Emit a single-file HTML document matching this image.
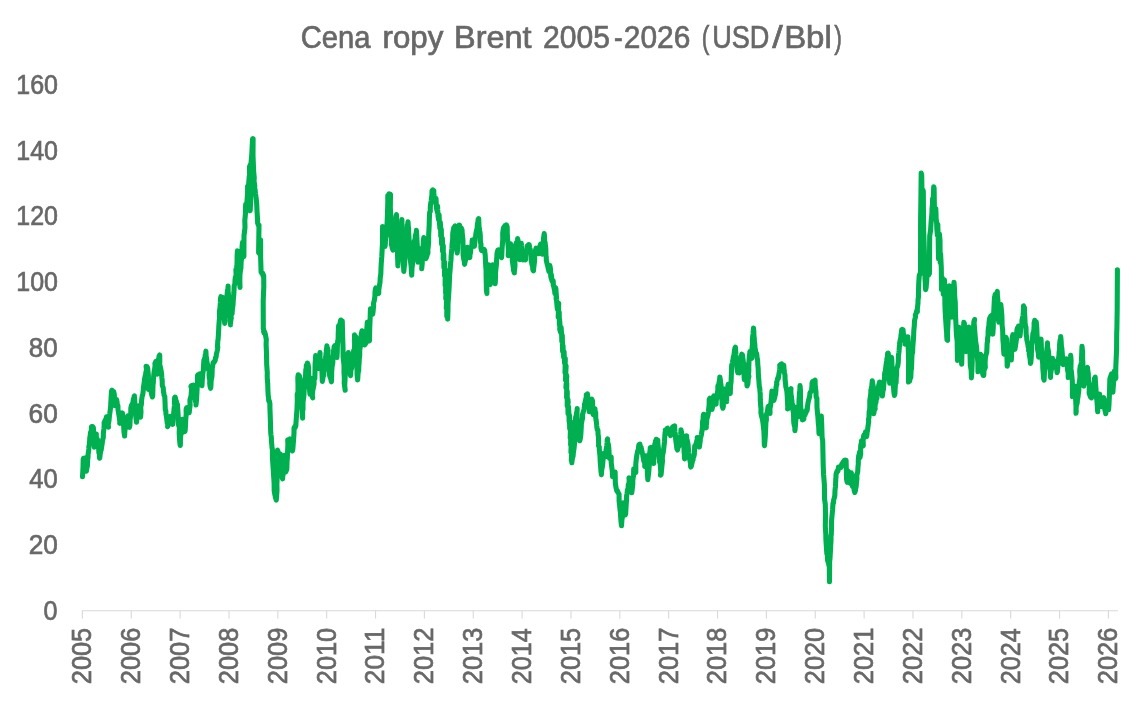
<!DOCTYPE html>
<html lang="pl"><head><meta charset="utf-8"><title>Cena ropy Brent 2005-2026 (USD/Bbl)</title>
<style>html,body{margin:0;padding:0;background:#fff;}body{width:1145px;height:702px;overflow:hidden;}svg{display:block;will-change:transform;}text{font-family:'Liberation Sans', 'DejaVu Sans', sans-serif;fill:#686868;stroke:#686868;stroke-width:0.7;}</style>
</head><body>
<svg width="1145" height="702" viewBox="0 0 1145 702">
<rect x="0" y="0" width="1145" height="702" fill="#ffffff"/>
<text y="47.6" font-size="31.2" xml:space="preserve">
<tspan x="300.67" textLength="69.78" lengthAdjust="spacingAndGlyphs">Cena</tspan> 
<tspan x="382.57" textLength="60.84" lengthAdjust="spacingAndGlyphs">ropy</tspan> 
<tspan x="454.09" textLength="77.5" lengthAdjust="spacingAndGlyphs">Brent</tspan> 
<tspan x="543.04" textLength="66.98" lengthAdjust="spacingAndGlyphs">2005</tspan>
<tspan x="614.09" textLength="8.73" lengthAdjust="spacingAndGlyphs">-</tspan>
<tspan x="623.85" textLength="66.41" lengthAdjust="spacingAndGlyphs">2026</tspan> 
<tspan x="701.82" textLength="7.66" lengthAdjust="spacingAndGlyphs">(</tspan>
<tspan x="712.16" textLength="57.19" lengthAdjust="spacingAndGlyphs">USD</tspan>
<tspan x="772.35" textLength="10.5" lengthAdjust="spacingAndGlyphs">/</tspan>
<tspan x="784.15" textLength="47.61" lengthAdjust="spacingAndGlyphs">Bbl</tspan>
<tspan x="834.22" textLength="7.66" lengthAdjust="spacingAndGlyphs">)</tspan>
</text>
<text x="43.47" y="619.75" font-size="28" textLength="13.96" lengthAdjust="spacingAndGlyphs">0</text>
<text x="28.63" y="554" font-size="28" textLength="29.14" lengthAdjust="spacingAndGlyphs">20</text>
<text x="29.36" y="488.25" font-size="28" textLength="28.38" lengthAdjust="spacingAndGlyphs">40</text>
<text x="28.62" y="422.5" font-size="28" textLength="29.15" lengthAdjust="spacingAndGlyphs">60</text>
<text x="28.82" y="356.75" font-size="28" textLength="28.95" lengthAdjust="spacingAndGlyphs">80</text>
<text x="16.25" y="291" font-size="28" textLength="41.68" lengthAdjust="spacingAndGlyphs">100</text>
<text x="16.25" y="225.25" font-size="28" textLength="41.68" lengthAdjust="spacingAndGlyphs">120</text>
<text x="16.25" y="159.5" font-size="28" textLength="41.68" lengthAdjust="spacingAndGlyphs">140</text>
<text x="16.25" y="93.75" font-size="28" textLength="41.68" lengthAdjust="spacingAndGlyphs">160</text>
<g stroke="#d9d9d9" stroke-width="1.1" fill="none">
<path d="M81.9 610.7H1118"/>
<path d="M82.4 610.7V618.6M131.26 610.7V618.6M180.11 610.7V618.6M228.97 610.7V618.6M277.83 610.7V618.6M326.69 610.7V618.6M375.54 610.7V618.6M424.4 610.7V618.6M473.26 610.7V618.6M522.11 610.7V618.6M570.97 610.7V618.6M619.83 610.7V618.6M668.68 610.7V618.6M717.54 610.7V618.6M766.4 610.7V618.6M815.25 610.7V618.6M864.11 610.7V618.6M912.97 610.7V618.6M961.83 610.7V618.6M1010.68 610.7V618.6M1059.54 610.7V618.6M1108.4 610.7V618.6"/>
</g>
<text transform="translate(91.3 683.3) rotate(-90)" x="-0.93" y="0" font-size="28" textLength="56.44" lengthAdjust="spacingAndGlyphs">2005</text>
<text transform="translate(140.16 683.3) rotate(-90)" x="-0.93" y="0" font-size="28" textLength="56.49" lengthAdjust="spacingAndGlyphs">2006</text>
<text transform="translate(189.01 683.3) rotate(-90)" x="-0.93" y="0" font-size="28" textLength="56.66" lengthAdjust="spacingAndGlyphs">2007</text>
<text transform="translate(237.87 683.3) rotate(-90)" x="-0.93" y="0" font-size="28" textLength="56.48" lengthAdjust="spacingAndGlyphs">2008</text>
<text transform="translate(286.73 683.3) rotate(-90)" x="-0.93" y="0" font-size="28" textLength="56.58" lengthAdjust="spacingAndGlyphs">2009</text>
<text transform="translate(335.58 683.3) rotate(-90)" x="-0.92" y="0" font-size="28" textLength="56.36" lengthAdjust="spacingAndGlyphs">2010</text>
<text transform="translate(384.44 683.3) rotate(-90)" x="-0.93" y="0" font-size="28" textLength="56.62" lengthAdjust="spacingAndGlyphs">2011</text>
<text transform="translate(433.3 683.3) rotate(-90)" x="-0.93" y="0" font-size="28" textLength="56.66" lengthAdjust="spacingAndGlyphs">2012</text>
<text transform="translate(482.16 683.3) rotate(-90)" x="-0.93" y="0" font-size="28" textLength="56.49" lengthAdjust="spacingAndGlyphs">2013</text>
<text transform="translate(531.01 683.3) rotate(-90)" x="-0.92" y="0" font-size="28" textLength="56.11" lengthAdjust="spacingAndGlyphs">2014</text>
<text transform="translate(579.87 683.3) rotate(-90)" x="-0.93" y="0" font-size="28" textLength="56.44" lengthAdjust="spacingAndGlyphs">2015</text>
<text transform="translate(628.73 683.3) rotate(-90)" x="-0.93" y="0" font-size="28" textLength="56.49" lengthAdjust="spacingAndGlyphs">2016</text>
<text transform="translate(677.58 683.3) rotate(-90)" x="-0.93" y="0" font-size="28" textLength="56.66" lengthAdjust="spacingAndGlyphs">2017</text>
<text transform="translate(726.44 683.3) rotate(-90)" x="-0.93" y="0" font-size="28" textLength="56.48" lengthAdjust="spacingAndGlyphs">2018</text>
<text transform="translate(775.3 683.3) rotate(-90)" x="-0.93" y="0" font-size="28" textLength="56.58" lengthAdjust="spacingAndGlyphs">2019</text>
<text transform="translate(824.15 683.3) rotate(-90)" x="-0.92" y="0" font-size="28" textLength="56.36" lengthAdjust="spacingAndGlyphs">2020</text>
<text transform="translate(873.01 683.3) rotate(-90)" x="-0.93" y="0" font-size="28" textLength="56.62" lengthAdjust="spacingAndGlyphs">2021</text>
<text transform="translate(921.87 683.3) rotate(-90)" x="-0.93" y="0" font-size="28" textLength="56.66" lengthAdjust="spacingAndGlyphs">2022</text>
<text transform="translate(970.73 683.3) rotate(-90)" x="-0.93" y="0" font-size="28" textLength="56.49" lengthAdjust="spacingAndGlyphs">2023</text>
<text transform="translate(1019.58 683.3) rotate(-90)" x="-0.92" y="0" font-size="28" textLength="56.11" lengthAdjust="spacingAndGlyphs">2024</text>
<text transform="translate(1068.44 683.3) rotate(-90)" x="-0.93" y="0" font-size="28" textLength="56.44" lengthAdjust="spacingAndGlyphs">2025</text>
<text transform="translate(1117.3 683.3) rotate(-90)" x="-0.93" y="0" font-size="28" textLength="56.49" lengthAdjust="spacingAndGlyphs">2026</text>
<path d="M82.5 476.8 83 467.7 83.2 459.4 83.5 458.3 83.9 459.5 84.2 460 84.5 459.8 85 458.1 85.3 458.6 85.3 458 85.4 459.6 85.7 464 85.9 468.1 86.4 471.2 86.9 467.8 87.4 466 87.5 462.4 87.7 459.4 88 457.8 88.1 454.4 88.6 451.2 88.8 448.9 88.9 446.4 89.5 444.1 89.7 439.2 89.8 437.6 90.1 436.3 90.6 432.2 91.1 431.3 91.4 430.7 91.4 427 91.5 427.8 91.6 427.2 91.8 426.5 91.8 427.8 92.3 426.6 92.8 428.2 92.6 426.6 93.4 427.7 93.6 434.7 94.3 447.3 94.5 445.7 95 445.1 95.4 442.8 96 438.1 96.3 437.4 96.3 434 96.3 436.7 96.8 438.7 97.5 439.5 97.7 442.9 98.1 445.6 98.6 447.9 98.7 449.2 98.9 452.8 99.4 453.6 99.5 457.7 99.7 458.2 100 455.9 100.1 455.6 100.1 454.5 100.7 450.8 101.2 449.9 101.5 447.6 101.9 445.3 102.3 442.7 102.5 440.6 102.9 438.8 103.3 437.8 103.4 432.7 103.9 429 104.2 425.2 104.1 422.9 104.3 422 104.7 421.5 105.1 420.4 105.3 420 105.7 421.4 105.9 419.5 106.2 418.4 106.5 416.8 106.5 418.5 107.1 419.9 107.7 422.1 107.9 421.5 108.3 422.9 108 425.7 108.5 427.1 108.2 424.7 109 420.6 109.4 416.2 109.8 413.5 110.4 408.7 110.7 406 110.7 405 111 399.6 111.5 391.1 111.9 392.3 111.9 390.4 112 391 112 390.2 112.6 391.5 112.8 392.5 112.9 392 113.7 391.7 114.3 394.3 114.5 399.7 115 400 115 405.5 115.5 404.1 115.5 404.4 116.2 403.8 116.4 403.1 116.6 399.6 117.1 402.3 117.3 406.2 117.5 404.9 117.9 405.7 118 409.7 118.5 412.7 119 415.6 119.4 418.1 119.9 422.4 119.7 423.3 120.1 420.4 120.6 418.1 120.8 416.9 121 416.8 121.3 415.8 121.5 417.1 122 416.2 122 414.5 122.3 412.9 122.6 413.7 123.1 418.9 123.5 421.9 123.5 425.1 123.7 426 123.9 431 124.1 432.8 124.6 436 124.8 432 125.2 428.5 125.1 427.6 125.4 427.8 125.6 423.8 125.9 423.4 126.5 423 126.9 421.8 127.4 421.1 127.2 418.8 127.9 415.9 128 418.3 128 422.6 128.9 424.3 129.3 424.6 129.4 427.4 129.9 425.2 130.1 419.4 130.6 416.1 130.8 412.3 130.8 407.9 131.2 407.4 131.3 405.5 131.9 407.3 131.6 406 132 404.8 132.5 404.7 132.9 402.5 133.4 399.1 133.5 398.7 134.1 399 134.2 396.2 134.4 395.8 134.6 399.1 135.1 406.3 135.1 407.4 135.7 413.9 136.1 419.5 136.4 420.5 136.5 422.3 136.9 419.5 137.2 417.1 137.5 416.2 137.8 415 138.2 412.3 138.3 410.3 138.6 407.4 138.8 405.8 139.2 407.6 139.2 409.5 139.8 412 140 414.3 140.1 416.5 140.6 417 141 411.7 140.7 407.5 141.5 403.7 141.5 400.9 142 397.2 142.4 395.4 142.8 394.3 143.3 390.1 143.5 386.6 143.7 386.2 144.2 382.4 144.6 378.9 145 377 145.8 373.9 145.8 372.8 146.5 369.8 146.1 366.3 146.9 367.5 147 366.6 147.4 367.4 147.6 368.4 147.8 369.2 147.7 368.8 148.4 375.6 148.4 380.5 148.4 389.5 148.2 387.7 148.7 386.4 149.1 386.4 149.1 385.1 149.6 385.9 150.1 384 149.8 386 150.4 388.1 150.8 387.2 150.7 390.1 150.9 389.9 151.1 391.7 151.6 394.2 152.4 397 152.7 395.7 152.9 389.6 153 384.9 153.4 382.1 153.4 379.8 153.8 374.7 154.1 371.7 154.6 369.3 154.8 367.8 155.1 365.7 154.9 363.5 155.9 361.3 155.9 361.6 156 365.3 156.3 368.1 156.8 371.6 157.3 374.2 157.4 371.4 157.8 369.9 157.9 366.2 158.1 363.4 158.5 359.8 158.9 357.4 159.1 356.2 159.7 355 159.8 361.1 159.7 365.1 160.2 366.3 161.1 370.5 161.6 374.1 161.8 377.2 162.2 380.6 162.2 382.7 162.3 385.7 163.1 387.3 163.3 388.7 163.5 392 163.8 392.6 164 395 164.8 396.8 165 401.6 165.1 403.8 165.2 407.6 165.3 409.9 165.8 410.7 166 414.7 166.3 415.3 166.7 418.2 167.2 423 167.9 424.3 167.6 426.7 168.3 425.2 168.8 422.7 168.7 423.7 168.5 421.2 168.7 421.8 169 420.6 169.1 419.4 169.1 418.4 169.6 417.4 170.2 416.5 170.3 416.8 171 417.6 171.2 419.6 171.4 420 171.6 420.3 172 422 172.7 423.6 172.7 424.1 172.8 424.3 173.2 418.3 173.6 414.2 174 409.7 174.4 405.9 174.5 399.3 174.7 397.6 175.1 397.1 175.5 398.2 175.9 400.4 176.1 401.9 176.4 401.4 176.6 403.2 177.1 404.1 177.5 404.3 177.6 406.5 177.9 411.4 178.3 418 178.4 422.6 178.7 425.8 179.4 426.6 179.2 433.1 179.5 438.6 179.9 443.2 180.3 445.5 180.4 443.9 180.4 438.7 180.9 434 181.3 434 182.1 430.6 182.2 426.2 182.5 423.7 182.6 419.4 182.9 420.9 183.1 421.1 183.5 422.6 183.8 424.5 184.3 426 184.4 429.2 184.6 431.1 184.9 431.5 185.2 430.2 185.5 425.2 185.8 418.5 186.2 414.2 186.1 409.5 186.6 407.8 187 407.6 187.2 408.5 187.1 409.8 187.5 409.9 187.8 411.5 188 412.2 188.8 412.8 189.2 412.8 189.7 408.2 190.1 405.4 189.9 400.2 190.3 398.3 191.1 395.8 191.3 392.2 191.6 389.8 191.4 385.6 191 386.4 191.4 386.4 192.3 386.6 192.5 386.1 192.7 385.5 193.2 385.1 193.5 385.5 194 387.7 194.2 390.9 194.4 393.9 195 394.5 195 397.8 195.4 401.5 196 401.5 196 404.9 196.5 400.2 196.9 392.6 197.1 388.7 197.3 384.9 197.5 381.2 197.5 375.5 197.8 375 198.1 375.8 198.7 375.1 199.2 374.3 199.4 375.4 199.5 375.5 199.8 374.7 200.4 374.1 200.4 373.8 200.9 375.8 201.2 376.4 201.4 379.5 201.4 382.1 201.4 384.8 202 385.6 202.3 379.7 202.6 374.8 203.3 370.6 203.6 365.1 203.9 360.2 204.8 358.6 204.5 359.6 204.8 357.7 205.2 357.1 205.2 355.1 205.8 353.9 205.8 351.7 205.9 351.2 206 353.4 206.2 356.8 206.6 358.2 206.8 361.2 207.4 364 208.1 368.2 208.3 369.5 209 368.8 209.2 371.4 209.1 375.4 209.4 378.7 209.8 378.8 209.7 383.4 210.1 386.6 210.6 388.3 210.8 387.3 211 384.3 211.1 381.1 211.9 376.8 212.1 373.7 212.2 368.4 212.7 365.8 213 363 213.6 362.8 213.7 362.1 214 362.5 214.1 361.8 214.5 361.2 214.5 361.3 214.9 361.2 215.2 360.3 215.5 357.9 216.1 357.1 216.4 354.1 217.1 351.3 217.5 349.2 217.8 347 217.4 348.2 217.6 344.8 217.8 340.5 218.1 339.6 218.6 331.3 218.8 326.5 219.3 319.9 219.6 318.4 219.4 310.9 219.9 309 220.4 302.4 220.5 298.6 220.9 296.7 221.3 297.8 221.1 298.4 221.5 298.1 221.7 299.6 222.1 298.3 222.3 298.3 222.8 297.4 222.8 302.8 223 307 223.6 308.5 223.9 314.3 224.4 319.4 224.7 323.4 225.1 320.9 224.9 317.7 225.3 316.8 225.6 313.5 225.8 310.7 226.3 306.7 226.3 302.2 226.8 297.7 227.2 293.4 227.6 289.8 227.9 289.8 228.1 286.1 228.1 290.9 228.5 294.9 228.9 299.4 229.4 306 229.8 312.2 230.1 315.9 230.3 320.1 230.5 324.9 230.6 322.2 231 319.1 231.3 318.1 231 318.5 231.1 315.2 232.1 313.7 232.5 307.8 232.7 307 233 305.4 233.1 303.3 233.3 299.4 233.6 296.5 233.9 292.8 234.2 285.7 234.8 284.4 235.1 279.1 235.4 277.1 236.1 275.4 235.9 269.6 236.6 267.4 237 264.6 237.1 259.2 237.1 256.7 237.4 250.9 238 258.8 238.1 261.1 238.3 265.7 238.6 272 239.2 273.7 239.5 277.4 239.8 282.3 240 287.4 239.8 279.7 240 274.1 240.4 270.9 240.9 268.1 241.1 262.3 241.7 257.6 241.9 251.7 242.1 246.5 242.5 242.4 242.9 247.5 243.5 250.8 243.7 253.2 243.9 256.6 244 235.7 244.6 231.2 245 227.3 244.8 220.4 245.3 215.6 245.5 213 245.6 205.2 245.7 204.4 245.9 205.3 246.7 204.5 246.8 204 247.3 196.7 247.6 194.1 247.6 186.2 248 187.4 248.5 186 248.7 183.6 248.7 183.1 249.2 176.9 249.6 175 249.5 166.7 249.8 168.6 249.8 166.8 250.2 164.9 250.2 190.3 250.2 210.7 250.7 199.3 250.5 188.9 250.7 179.8 251.2 170.8 251.1 162.3 251.8 154.1 252.1 147.7 252.6 138.8 253 138.9 253.1 138.6 253 155.3 253.7 172.5 254.2 177.1 254.2 178.9 254 181 254.8 186.1 254.5 187.2 255.1 189.9 255.5 193.6 256.2 198.6 256.7 203.9 257 210.9 257.6 220.5 257.6 222.9 258.1 224.3 258 223.9 258 223.9 258.5 225.6 259 225.1 258.6 252.6 259 253.3 259 252.6 259.5 249.8 259.8 247.1 259.8 245.7 259.9 241.8 260.6 239.8 260.6 256.5 261.1 272.1 261.4 272.3 261.8 273.4 262.4 273.4 262.8 273.3 263 274.9 263 275.7 263.4 276.5 263.7 275.4 263.8 286.5 263.2 301 263.3 328.6 263.6 329.2 263.9 330.7 263.6 331.4 264 332.9 264.4 331.5 265 333 265.5 335.1 266.3 339.5 266.1 344.3 266.5 352.9 266.7 364.6 267.3 373 267.2 375.7 267.3 379.3 267.7 383.3 267.9 389.9 268.2 395.6 268.6 397.9 268.7 400.9 269.3 400.7 269.8 403.2 269.9 403.5 269.9 407.3 270.3 417.9 270.7 432.3 270.9 434.3 271.4 438 271.4 440.9 271.8 444.6 272 447.6 272.4 449.4 272.4 456.9 273 466 273.4 472.2 273.7 476.9 274.1 482.8 274.2 490.8 274.9 494.9 275.2 495.7 275.4 497.7 275.4 497.5 275.9 498.6 276.2 499.9 276.3 500 277 490.8 276.9 484.5 277.1 479.3 277.5 450.1 278 451.6 278.1 457.1 278.2 458.3 278.6 461.6 278.4 465.4 278.9 470.4 278.6 467.4 278.9 461.7 279.6 456.8 280.2 453.9 280.1 457.9 280.4 460.1 280.9 462.2 281.1 465.1 281.1 467.7 281.8 472.9 282 476.8 282.6 478.9 282.8 475.9 283.4 473.4 283.6 470.7 284 467.3 284.2 459.6 284.4 455.2 284.5 459.7 285.1 461 285.7 467.2 285.8 471.9 286.8 469.4 287 462.9 287.4 456.9 287.5 453.2 287.9 444.6 287.7 439.9 288.7 439.5 288.7 440.5 289.3 440.5 289.5 439.7 289.9 440.5 289.8 440.4 290.1 438.9 290.3 439.2 291.2 439.9 291 442.5 291.2 443.1 291.4 444.3 291.5 446.7 291.7 448.7 292.1 449.5 292.4 451 292.8 449.3 293.2 444.2 293.6 439.2 294 433.1 294 429 294.1 427.6 294.5 428.7 294.6 428.2 295.3 427.3 295.5 425.3 295.8 426.1 296 422.7 296.4 416.8 297 409.1 297.3 400.6 297.2 394.2 298 392.2 298 384 297.8 377.8 298.2 374.9 298.5 376.3 298.8 375.8 299.3 375.6 299.6 377 300 379 300.3 380.2 300.7 381.2 300.9 382.8 301.1 384.4 301.4 396 301.8 399 301.7 403.8 302.2 409.4 302.6 418.2 302.6 411.3 303 409.4 303 402.4 303.9 395.5 304.2 389.7 304.5 387.6 304.5 383.1 305.2 378.5 305.6 374.8 305.8 369.7 306.3 368.1 306.3 365.5 306.7 364.8 306.8 365.6 307.1 365 307.4 363.1 307.4 363.2 308.1 364.7 308.6 367.6 308.5 370.4 308.9 377.9 309 383.1 309.4 387.6 309.7 391.6 310 394.3 309.9 390.1 310.2 387.9 310.4 381.9 311 378.3 310.8 380.9 311.1 383.8 311.4 387.6 311.9 391.3 311.8 395.1 312.7 397.8 312.3 395.5 312.7 391 313.4 387.5 314.1 384 314 379.2 314.8 378.6 315 371.6 315.1 364.2 315.7 355.5 315.8 358.4 316 356.6 316.4 359 316.8 359.4 317.1 360.2 317.5 361.6 317.9 364.3 318.6 366.7 319.1 368.5 319.1 367.2 319.5 362.5 319.6 357 320 352.5 320 356.8 320.3 360.5 320.4 362.9 321 364.2 321.9 370 322.1 375.2 322.3 381.5 322.6 379.7 323.2 376.3 323.8 375.3 323.9 372.1 324.3 368.6 324.6 365 325.1 364.9 324.9 362.2 325.4 358.9 325.8 355.7 325.9 356.5 326 353.2 326.5 354.2 326.3 350.3 326.8 347 326.9 345.7 327.2 348.1 327.6 348.3 328.1 350.5 328 352.2 328.3 358.2 328.5 360.7 328.9 361.6 328.8 365.3 329.3 369.4 329.2 371.6 329.5 372 329.6 375.1 329.6 375.6 330.2 377.5 330.5 377.8 331.4 381.8 331.6 378.2 331.7 371.6 332.1 366.6 332.8 362.9 332.9 359.4 333.3 356 333.5 354.8 333.6 350.3 333.8 349.9 334.2 346.5 334.8 345.7 335.3 348.2 335.8 348.9 336.2 350 336.5 352.6 336.7 355.8 336.9 357.5 337.2 352.9 337.4 345.9 337.7 340.6 338.1 340.9 338.2 335.1 338.5 326.1 338.5 326.1 338.8 326.7 338.7 326.4 339.2 325.2 339.7 324.5 340.1 324 340.3 321.8 340.8 320 341.1 320.8 341.3 320.3 342.1 321.9 342.3 321 342.4 326.5 342.6 335.8 343 346.7 343.1 356.8 343.5 360.8 344 365.1 344 373.1 344.3 377.1 344.3 382 344.2 383.2 345.2 390.3 344.7 385.6 345 380.2 345.3 373.2 345.9 370.6 346.8 366.2 346.9 362.3 347.3 359.8 347.6 357 347.8 354 348.3 352.5 349 356.7 348.9 360.8 349.3 363.4 349.9 367.8 349.8 370.2 350.1 370.6 350.2 373.9 350.5 375.7 350.8 373 350.9 369.8 351.6 368.7 352.1 365.2 352.5 362.7 352.4 359.3 353 356.5 353.7 350.5 354.3 349.7 354.6 347.5 354.6 341.1 354.5 334.9 355.1 337 355.8 336.8 355.9 342.6 356.2 345 356.3 346.9 356.2 348 356.6 354.8 356.7 361.5 357 367.4 357.1 374.6 357.6 379.9 357.8 377.8 358.1 373 358.7 370.4 358.8 366.3 359.1 363.2 359.3 358.6 359.7 355.4 359.7 351.2 359.8 349.8 360.2 347.3 360.4 344.3 360.7 341.5 360.8 339.1 360.9 337.6 361.3 333.8 362 330.8 361.9 335.4 362.7 339.2 363.2 341.2 363.6 343.7 364 344.4 364.4 343.4 364.9 344.5 364.7 344.9 365.3 344 365.6 343.7 366.2 342.5 366.3 339.6 366.5 332.9 366.8 329 367 326.4 367.3 322.2 368 324.7 368.2 327.3 368.3 329.1 368.6 332.9 368.8 333.2 368.9 335.5 369 339.2 369.5 340.8 369.7 328.6 370.1 319.3 370.4 310.1 370.5 308.7 371.1 310.8 371.2 311.6 371.1 313.1 371.6 312.7 371.8 313.8 372.5 312.6 372.7 314.2 373.1 311.2 373.7 305.1 373.5 304.6 373.5 303.2 374 301.6 374.2 301 374.9 296.6 375 292 375.5 288.5 375.8 288 376.2 289.4 376.4 291.3 376.6 292.4 376.5 292.7 376.9 292.7 377.2 292.3 377.4 292.4 377.7 291.1 378 291.9 378.7 293.4 378.8 289.9 379.5 285 380 282.6 380.2 278.2 380.8 274.1 381 268.2 381.2 264.1 381.8 256.2 382.2 248.5 382.5 243.7 382.5 237.1 382.6 226.5 383.2 229.5 383.5 230.8 383.6 233.2 384.1 236.4 384.6 240.1 385 241.9 385 246.4 385.3 243.9 385.5 239 386.4 235.4 386.9 232.2 386.6 230.4 387.1 223.1 387.4 215.8 387.8 202.5 387.8 195.5 388.2 196.6 388.6 196.4 389.1 195.1 389 193.9 389.1 194.7 389 194.6 389.2 194.6 389.3 194.8 389.7 195 390.5 194.5 390.3 207.6 390.7 214.5 391 227.3 391.6 244.6 391.4 244.7 391.9 245.8 392.2 248 393 250.2 393.3 243.6 393.2 240.2 393.7 233.5 394.3 230.3 394.8 228.8 395 226 395.2 224.7 395.2 223.3 395.6 221.1 396.1 215.8 396.5 214.7 396.7 222.7 396.9 237.7 397.1 239.8 397.4 250.4 397.9 265.9 398.2 258.9 399 253.8 399 250.5 399.4 248.8 399.7 244.6 399.9 238.2 400.1 238.1 400.5 233.4 400.8 232.3 401 226.6 401.5 224.9 401.7 224.7 401.9 219.6 402 229.9 401.8 239.2 402 246.6 402.6 253.3 403 256.8 403.5 265 403.8 271.5 404.5 264.5 404.7 261.9 405.2 257 405.7 253.9 405.9 252.5 405.9 249.9 406.1 245.4 406.4 239.7 407 236.3 407.1 228.1 407.3 225.2 407.8 223.8 408 221.7 408.3 226.7 408.6 228.2 408.6 231.6 409 238 409.2 243.5 409.6 248.8 409.9 253.6 410.5 260.8 410.7 262.9 411.1 265.7 411.6 273.8 411.7 275.2 412 268.1 412.4 265 412.5 264.2 413.2 257.7 413.3 253.9 413.4 248 413.6 242.5 414.2 242.3 414.3 241.2 415.1 239 415.4 235.7 415.7 234.9 416.1 233.2 416.3 232.6 416.4 230.4 416.7 234.7 417 241.2 417.6 250.9 417.9 255.7 418 262.2 418.6 260.2 418.6 257.4 419.1 256.4 419.4 254.7 419.6 252.3 419.7 248.6 420.1 251.9 420.6 254.2 421.2 255.8 421.9 261.4 422 264.3 421.7 268.8 422.2 263.6 422.3 261.3 422.7 255.7 422.9 250.4 423.1 246.9 423.4 240.5 423.8 237.5 424.5 239 424.6 242.2 425 246.2 425.6 251.5 426.1 254.1 425.9 258.6 426.7 256.7 427 255.4 427.3 253.9 427.7 253.9 428 252 428 252 427.8 249.9 428.3 246 428.6 242.1 428.7 234 429.2 225.5 429.3 220 429.5 215.8 429.7 212.1 430.3 211.4 430.3 207.3 430.6 204.1 431.1 201.1 431.6 197.1 431.9 195.1 432 190.8 432.1 191.3 432.3 191 432.8 189.9 433.2 190.2 433.2 191 433.8 190.7 433.8 193.7 434.2 196 434.8 198.9 435.6 200.5 435.7 201.7 435.8 202.8 436 204.5 436 198.5 436.2 202.4 436.4 206.4 436.4 208 436.7 209.3 437.5 212.8 437.6 206 437.7 209.9 438 213.4 438 216 438.7 220 439.1 214.9 439.3 220.9 439.9 228.6 440.3 222.2 440.7 228.7 440.7 235.7 441 232.5 441.3 229.4 441.6 244.3 442.2 240.6 442.4 238.3 442.6 251.5 443.2 246.1 443.3 245.7 443.2 259 443.4 255.7 443.8 254 443.9 267.6 444.3 265.2 444.7 262.2 444.5 275.7 445.2 273 445.5 270.9 445.3 269.7 445.1 285.1 445.8 284.6 445.8 279.2 445.6 293.3 446.1 291.7 446.3 288.9 446.3 286.6 445.8 299 445.8 295.9 446.3 294.7 446.8 294.2 446.3 308.4 446.8 307.5 446.7 306.2 447.3 302.7 446.8 312 446.8 316.2 446.9 315 447.4 311.6 447.8 309.2 447.7 319.1 448 309.6 448 305.5 448.1 302.9 448.8 292.5 449.1 287.8 449.4 281.3 449.6 275.4 450.2 268.8 450.5 264.3 450.9 260.7 451.1 257.9 451.1 256.3 451.5 252.2 451.9 248.2 452.2 243 452.7 239 452.7 234.6 452.9 232.6 453.5 229.3 453.8 227.6 454.2 227.4 454.7 226.5 454.9 227.9 454.7 228.1 455.3 225.9 455.4 231.6 455.5 234.6 456.1 238.7 456.4 245.6 456.6 248.9 457.2 253 457.6 248.9 457.7 243.6 458.2 241.3 458.7 234.6 459.1 228.5 459.2 225 459.6 225.2 459.7 227 460.3 228.7 460.7 228.7 460.9 228.4 461.2 227.9 461.7 229 462.1 230.5 462 230.6 462.5 236.2 462.9 239.1 463 244 463.1 254.5 463.4 257 464 260.4 464.3 260.9 464.5 263.8 464.6 264.3 464.9 262.6 465.4 260.5 465.7 259.8 466.1 257.3 466.2 254.6 466.3 253.6 466.4 252.1 466.6 251.3 467.4 247.3 467.9 248.4 467.8 248.7 468.3 250.9 468.1 251.9 468.4 253.2 468.8 254.3 469 254.1 469.8 257.6 469.9 254.8 470.5 252.8 470.6 250.9 470.9 248.2 471.5 247 472 244.2 472.2 240 472.8 240.7 472.8 242.2 472.7 242.1 473 243.1 473.4 243.6 473.7 242.7 474 244.4 474.4 246.3 474.7 243.3 475 240.4 475.1 239 475.2 237.6 475.6 235.7 476.2 232 476.6 230.1 477.1 228.4 477.4 224.6 477.8 222.1 478 222.1 478.1 219.5 478.7 218.6 478.9 223.5 479 226.4 479.5 229.5 479.6 233 480 232.1 480.3 235.8 480.3 236.7 480.4 241.3 480.5 242.4 481 244.4 480.9 247.7 481.5 250.5 481.9 250.6 481.9 250.4 482.2 250 482.5 249.5 482.9 250.5 483.8 249.6 484 249.4 484.4 250 484.7 250.1 484.7 251.3 485.2 254.9 485.4 259.2 485.7 265.6 486.1 270.7 486.1 276 486.3 283.1 486.4 290.1 486.9 293.5 486.8 285.3 487.5 279.9 488 273.7 488.3 272.8 488.5 269.7 488.7 264.9 489.3 268.8 489.4 271.7 489.8 274.3 489.8 275.8 490 279.7 490.3 284.6 490.3 280.9 490.3 279.5 490.9 276.2 491.6 274 491.8 272.2 492.1 269.4 492.8 264.8 492.9 266.4 493.1 268.5 493.5 272.4 493.9 276 494.5 276.8 494.6 278.2 494.9 280.5 495.2 283.7 495.4 279.9 495.5 272.8 496 268.3 496.4 264.7 496.6 260.2 496.9 255.8 497 253.9 497.3 252 497.6 251.1 497.8 250.8 497.9 249.9 498.6 249.8 498 250.9 498.6 251 499 250 499.5 251.9 500 252 500.2 253.8 500.6 255.7 500.9 256.6 501.6 257.6 501.8 254.6 502.1 247.8 502.4 244.3 502.8 239.3 502.7 233.4 503.4 228 503.4 228 503.7 228.4 504 227.1 504.2 227 505 225.7 505.5 226.6 505.9 227.1 506.4 224.9 506.5 225.2 507.2 227.2 507.3 235.8 507.7 240.9 508.1 245.6 508.4 250.8 508.2 255.7 509.2 253.4 509.6 252.6 510.1 252.4 510.1 251.1 509.9 249.3 510.3 247.4 510.6 243.9 510.8 244.3 511.2 245.6 511.2 246.4 511.9 250.7 512.4 252.3 512.5 256.1 512.3 260.1 512.6 262.7 513.2 266.8 513.5 270.2 514 271.7 514.3 272.9 514.2 272.7 515 265.8 514.8 260.4 515.1 256.2 515.7 251.5 515.7 246.2 516.1 244.1 516.4 242.6 516.8 244.6 517.4 241.4 517.7 240.6 517.6 238.5 518.6 243.3 519 247.5 519.1 249.4 519.5 251.7 519.5 256.6 519.6 259.7 520.1 258.9 520.5 255.3 520.7 252.1 521 250.6 521.3 245.9 521.3 243.4 521.5 245.6 521.7 247.3 521.5 249.7 521.7 255.1 522.2 257.2 523 259.8 523.4 258.2 523.7 258.7 524 259.4 524 258.3 524.6 258.9 525 258.8 525.4 259.1 525.3 259.9 525.7 259.5 525.8 256.4 525.9 252.7 526.8 249 527 248.4 527.2 248.9 527.2 246 527.8 246.3 527.9 246.3 528.1 245.9 528.4 244.7 528.6 244.6 529.2 244.9 529.6 247.5 530.4 250.1 530.7 251 530.9 253.1 531.3 257 531.3 261.3 531.7 261.6 531.8 263.7 532.5 266.2 532.8 266 532.7 268.8 533 270.3 533.5 270.9 533.8 267.1 534.2 264 534.6 261 534.6 257.2 535 252 535.7 249.4 535.8 249.4 536.1 248.2 536.3 248.7 536.4 248.4 536.8 248.7 537.2 248.5 537.5 249.7 538.1 251.2 538.4 252.6 538.5 253 538.8 253.6 539.1 252.2 539.1 249.3 539.7 248.6 539.7 247.6 540.1 245.8 540.6 244.1 540.7 245.2 541.2 245.8 541.3 248.4 541.8 249.2 542.1 251.9 542.4 254.2 542.9 249.7 543.2 246.1 543.3 243 543.6 238 543.7 237.1 544.2 233.6 544.5 236.7 544.6 241.8 545.1 242.5 545.5 246.1 545.8 248.7 546 256.3 546.2 256.3 546.3 258 546.3 260.3 546.8 262.4 547.4 265.2 547.8 266.1 547.9 266.8 548.3 269.1 548.4 269.3 548.9 271.5 549.4 270.8 549.6 270.5 549.9 265.6 550.4 268.7 550.7 276 551.1 277.5 551.3 278.9 550.9 273.5 551.2 274.5 551.6 276.7 551.6 279 551.8 280.2 552.2 281.2 552.5 281.3 552.8 281.7 553 282.9 553.4 285.7 553.2 280.9 553.4 285.1 553.6 285.7 553.9 287.4 554.6 290.2 554.9 293.6 555 288.1 555.5 287.7 555.9 288.8 556.2 293.7 556.4 296.2 556.6 299.2 556.8 301.4 556.4 300 556.2 296.3 556.1 298.5 556.6 301 556.9 304.3 557.2 307.7 557.7 309.9 557.4 308.8 558 304.8 558.7 303.4 558.2 317.2 558.6 316.6 559 316.3 559.2 312.1 559.4 325.1 559.5 319 559.8 322.3 560 325.4 559.7 329.1 560.2 331 560.9 332.9 561.1 327.2 561.7 335.9 561.8 341.5 562 338.3 562.3 335.3 562.6 351.5 563 345.3 563.3 353.1 563.7 357.6 564.1 351.7 564.2 354.7 564.6 363.5 564.7 360.1 565.3 358.5 565 373 565.4 371.2 565.4 366.8 566.1 366 565.8 372 565.5 380.2 566.3 377.6 566.8 377 566.5 375 566.6 381 565.9 387.5 566.2 383.4 566.5 384.1 566.8 383.3 566.6 397.8 567.3 394.7 567.2 391 567.2 405.8 568.2 402.3 567.9 399.3 568 413.4 568.4 411.2 568.5 406.6 569 415.2 569.1 421.6 569.4 414.8 569.7 429 570.3 427.3 570.9 425.3 570.6 422.1 570.2 438.2 570.8 435.2 570.8 431.4 571 430.6 570.6 444.9 571.2 444.2 571.4 440.7 571.4 438.9 570.9 452.3 571.1 448.3 571.3 447.1 571.8 446.4 571.3 460.7 571.5 457.5 571.6 456.4 572 454.8 571.9 462.8 571.9 461.7 572.4 458.4 573.1 456 573.3 453.2 573.7 450.6 574 448.7 574.9 440.3 575 438.7 575.3 429.8 575 425.1 575.3 419.1 575.7 417.8 575.7 416.8 576.2 415.8 576.6 412.7 576.9 412 577.2 408.5 577 413.8 577.2 418.3 577.3 421.7 577.7 422.6 577.8 427 578.2 430.7 578.6 435.1 579 438.2 579.8 440.7 580.2 439.1 580.7 435.8 581 431.8 581.3 426.6 581.3 424.3 581.9 421.1 581.8 420.3 582.3 419.6 582.5 417.7 582.5 414.5 583.2 412.2 583.2 411.9 583.6 411.2 584 409.3 584.5 406.5 584.4 404.5 585 402.8 585.6 400.3 585.8 398.9 586.2 398.7 586.3 397 586.3 394.8 586.9 394.9 587.4 393.8 587.9 397.8 588.1 401.5 588.8 404.1 588.8 404.4 589.2 406.7 589.3 411.8 589.7 411 589.9 409.3 590.2 407.3 590.9 406.6 591.2 402.6 591.7 401.4 592 401 591.8 399.1 592.6 401.2 592.6 407.8 593 413.5 593.2 414.6 593.9 412.3 593.9 411.6 594.1 410.1 594.2 411.1 595 408.7 595 409.9 595.3 411.9 595.7 412.6 595.7 417.4 596 419.8 596.4 421.9 596.7 425.4 597.1 429.1 597.4 430 597.9 430.2 598 432.2 598.1 434.8 598.5 437.1 598.6 442.2 598.6 445.9 599.3 447.1 599.3 449.9 599.8 454.3 600 456.2 600.2 461.6 600.7 467.2 601 471.5 601.4 474.7 601.6 471.1 602.2 467.1 602.3 467.3 602.8 462.9 603.1 459.2 603.4 453.6 603.9 454.7 604.3 454.2 604.5 455.3 605.1 456 605.4 454.7 605.3 454.6 605.7 455.5 605.7 456.8 605.9 451.9 606.1 449.9 606.8 445.6 607.1 442.7 607.2 440.1 607.6 438.9 607.6 442.7 608.3 444 608.8 447.9 609.1 453.2 609 456.2 609.5 458.3 610 458 609.8 456.7 609.9 456.2 610.1 456.7 610.4 458 611.2 457 611.2 462.6 612 468.8 612.3 471.3 612.5 476.6 612.7 475.8 613.1 476.3 613.5 473.8 613.5 473.2 614 472.2 614.7 472 614.6 472.2 615.1 472.1 615.2 475.3 615.3 480.5 615.3 482.5 615.4 483.5 616.1 488.2 616.7 490.4 616.8 490.8 616.9 490.1 617.5 491 617.9 491.8 617.8 491.5 618 492.7 618.4 493.2 619.1 494.1 619.1 500.9 619.6 505.3 620.1 510.5 620.3 511.2 620.8 518.9 621.2 523.3 621.5 525.7 621.9 519.9 622.6 516.1 623.2 512 623.1 507.6 623.1 502.8 623.7 506.8 623.9 506.9 623.9 506.9 624.1 507.8 624.5 508.7 625.2 511.7 625.3 514.9 625.7 513.1 625.9 509.4 626.2 504.6 626.6 499 626.6 496 627 493.6 627.5 489.8 628.1 488.5 628.3 484.7 628.8 483.3 629.2 481.1 629 477.7 629.4 480.5 629.6 484 629.5 484.2 630 485.9 630.3 488.9 630.4 489 631 489.9 631.6 491.9 631.7 492.8 632.1 490.3 632.8 484 632.8 481.1 633.1 478 633.6 475.5 633.7 468.8 634 469.4 634.3 468.6 634.6 469.8 634.8 469.6 635.2 470.5 635.5 472.7 635.3 472 635.8 472.2 635.8 467.7 635.8 464 636.3 459 637.1 453.7 637.4 452.8 637.4 452.4 637.8 450.6 638 450.3 638.5 449.6 638.6 446.7 639 444.5 639.5 444.3 639.9 444.2 640.3 446.5 640.7 447.7 641.1 447.3 641.1 447.7 641.5 449.2 641.7 450.8 642.1 451.4 642.1 452.4 642.8 454.9 642.9 456.1 643.6 459.8 643.8 461 644.7 463 645.1 464.8 644.7 466.5 644.9 462.6 645.2 460.7 645.5 460.2 645.9 455.8 646.7 460.4 647.2 464.4 647.3 469.9 647.4 473.8 647.7 477 647.8 479.7 648.1 477.2 648.8 471.5 649.2 465.8 649.6 461.5 649.4 453.5 649.8 456 649.9 451.9 650.2 449.4 650.3 447.7 650.7 447.8 651 447.4 651.3 448.8 651.6 450.9 651.6 453.7 652 454.7 652.3 456 652.7 457.5 653 460.9 653.5 462 653.7 463.5 653.7 460.3 654.2 455.8 654.5 452.5 654.5 446 654.9 443.8 655.6 442 655.4 441.3 655.8 440.5 656.4 439.9 656.3 439.3 656.4 439.7 656.6 441.3 657.1 440.8 657.8 440.2 657.8 442.4 658.7 451.2 659.2 454.3 659.5 462 660.1 462.9 660.4 466.3 660.6 469.7 660.8 472.6 660.5 475.2 661.1 474.4 661.4 471.5 661.7 468.6 661.8 466.9 662.5 461 662.3 457.7 662.9 453.7 663.2 452.8 663.8 448 664.3 443.5 664.5 441.4 664.8 436.3 665 433.4 665.5 430.1 665.3 430.1 665.7 431.2 666.5 430.6 666.8 431.1 666.4 429.8 667 429.8 667.1 428.5 667.6 428.2 667.7 428.9 668.2 431.2 668.7 431.7 668.9 433.4 669.1 432.4 669.3 432.1 669.7 433.3 670.1 434.5 670.6 435.5 671 434.9 671.2 434.8 671.9 432.4 672.2 430.9 672.6 428.9 672.5 427.3 672.8 426.9 673 427.4 673.2 427.1 673.4 427 673.5 427.4 673.7 426.4 674.1 426.6 674.7 425.9 674.6 428.3 674.9 431.2 675.4 435.1 675.7 439.5 675.9 441.2 676.4 444.6 676.9 448.7 677.5 450 678.1 446.9 678.6 446.6 679 445 679.1 443.3 679.2 442.2 680.1 440.3 680.1 438.7 680.4 437.3 680.7 434.7 680.8 432.5 681 431.5 681 429.7 681.3 431.8 681.7 433.9 682.1 434.8 682.5 438.5 682.8 440.5 683.1 443.9 683.6 446.4 684 447.9 684.1 451.9 684.4 454.6 684.4 456.4 684.6 458.9 684.7 456.1 685 453.1 685.5 448.2 685.8 444.2 686.2 440.7 686.6 435.7 686.7 438.9 687.1 439.8 687.8 442.9 688.1 444.9 688.4 448.9 688.6 451 688.7 452.3 689.1 455.6 689.1 457.7 689.7 459.4 689.8 459.8 690.5 463.2 690.6 466.5 690.8 467 691 466.8 691.6 465.1 691.8 463.8 692.2 462.3 692.5 460.4 693.1 459.8 693.1 456.5 693.4 456.2 693.8 456.7 694.3 454.7 694.5 450.1 694.7 446.1 694.9 445.7 695 445.7 695.3 445.9 695.8 444.3 696.5 442.5 696.9 440.2 697.1 440.1 697.6 439.5 697.2 437.5 698.1 439.2 698.1 438.6 698.4 440.6 698.9 443.7 699.1 444.5 699.3 443.9 699.4 445.6 699.4 446.9 699.8 443.9 700.3 440.3 700.2 438.1 700.4 438.1 700.7 437.4 701.1 435.8 701.5 434.3 701.9 431 702.1 430.7 702.5 426 702.5 424.8 702.6 421.1 703.1 419.4 703.2 416 703.6 414.3 703.6 416.8 704.2 420.2 704.5 420.3 704.7 421.3 705.3 423 705.6 423.1 706.1 427 706.3 427.8 706.2 424.4 706.6 423.8 706.7 420.4 707 417.7 707.3 417.6 708 414.8 708.4 411.8 708.9 406.9 709.1 405.7 709.2 403.2 709.2 399.6 709.9 398.2 710.3 400.2 710.6 402.6 711.1 403.3 711.5 406.6 711.7 409.4 712 409.4 712.5 407 712.8 405.2 712.9 403.3 713.6 399.8 713.4 399.1 713.5 396.7 713.8 395.9 714.2 397 714.7 398.1 714.8 399.9 714.8 402 715.1 402 715.6 404.1 716.1 404.1 716.2 400.7 716.9 397.9 717.2 394.7 717.8 390 717.9 385.7 718.6 386.3 718.8 384.5 719.2 381.7 719.6 379.7 719.8 377.6 719.8 377 720.4 380.2 720.4 381.6 721 384.9 721.1 388 721.3 390.4 721.5 394.9 721.8 398.3 721.9 400 722.1 402.4 722.1 405.6 722.9 408.2 723.4 406.3 723.3 403.3 723.8 399.5 723.8 395.1 724.3 392.6 724.7 389 724.8 390.5 725.4 392.9 725.7 393.5 726.1 398.2 726.6 400.3 726.7 401.7 726.6 396.5 727.2 394.9 727.4 391.9 727.8 390 727.8 387.5 728.2 384.2 727.9 385.7 728.7 386.5 729.2 389.4 729.6 390.8 730 391.3 730.3 393.4 730.5 386.2 731.1 381.4 731.4 372.5 731.6 366.5 731.7 365 732.1 364.7 732.5 362.3 732.7 360.7 733.2 359.1 733.2 357.6 733.7 355.8 734 356.2 734.1 353.8 734.6 349.8 735 347.9 735.4 347.2 735.8 352.5 735.9 354.4 736.4 360.1 736.5 363 736.9 367.3 737.3 370.3 737.8 372.7 738 372 738.3 372 738.8 372.6 738.9 372.9 739.3 372.9 739.9 368.9 740.2 366.4 740.4 363.6 740.6 359.6 740.9 360.4 741.3 356.8 741.4 355.9 741.8 354.2 741.9 354.3 742.4 354.8 743.2 360.9 743.5 363.5 743.9 367.2 744.1 371.9 744.1 376.3 744.3 379.6 745 376.9 745.3 371.7 745.3 370.7 745.6 370 745.6 364.7 745.8 370.2 745.8 375.8 746.3 379 746.8 381.7 747 386 747.9 383.6 748.2 379.6 748.2 379.1 748.9 376.3 748.5 374.7 748.8 370.8 748.8 366.8 749 360.9 749.3 356.9 750 351.6 749.9 352.5 750 354.6 750.4 355.6 750.7 357.6 750.9 357.2 751.8 358.3 751.8 350.9 752.5 343.5 752.4 339.3 753 334 753.5 328 753.8 331.2 753.9 335 754.3 338.8 754.4 341.8 754.8 343.7 755 348.4 755.3 349.2 755.5 351.2 755.7 353.3 756.4 353.1 756.7 353.8 756.8 354.9 757.1 357.8 757.6 360 757.8 364.8 758.2 368.7 758.4 375.5 758.8 379.4 759.3 386.8 759.7 387.6 760 391.7 760.2 393.7 760.3 400 760.7 406.1 761 408.4 760.9 413.3 761.3 413.4 761.2 414.6 761.8 417.2 762.4 419 763 423.2 763.2 424.7 763.9 431.4 764.1 436.5 764.2 439.5 764.3 444.1 764.5 445.8 765 440 765.3 436.6 765.6 429.6 765.6 430 765.9 422.2 766.4 420.2 766.3 415.6 766.9 412.9 767.4 411.7 767.8 408.7 768.1 406.8 768.3 406.3 768.3 407.1 768.9 408.6 769.2 409.3 769.2 409.2 769.9 411.6 770.1 413.4 769.9 408.8 770.7 405 771 402 771.2 399.7 771.6 395.8 771.9 391.1 772.2 393.9 772 392.6 772.7 393.9 773.2 396.3 773.7 399 773.9 400.5 774.3 398.8 774.7 397.6 775.2 395 775.6 393.7 776 389 775.9 388.2 776.5 385.1 776.6 384.5 776.9 384.2 776.6 382.5 777.1 381 777.5 379.4 777.6 378.4 778.2 378.6 778.6 376.8 778.6 376.1 779.1 373 779.3 372.3 779.7 369.5 779.9 366.4 779.7 365.1 780.5 364.6 780.4 365.5 780.6 364.4 781.5 363.9 781.7 363.9 782.2 364.8 782.2 366.4 782.6 367 783 365.9 783.7 365.1 783.8 366.1 784.2 371.1 784.5 373 785 375.3 785.1 379.9 785.5 382.8 785.8 386.8 786.3 388.4 786.9 391.6 787.3 397.3 787.5 401.9 787.8 407.4 787.6 408.9 788.3 408.4 788.2 405.5 788.2 405.4 788.4 400.1 789 400.6 789.3 397.1 789.2 395.8 789.7 394 789.8 393.9 789.8 389.8 790.3 389.4 791 388.6 790.8 391.9 791.3 396.7 792 401.3 791.8 403 792.7 404.7 793 410.7 793.5 413 793.7 421.2 793.8 422.8 794.3 425.5 794.8 426.8 794.9 430.8 795.3 427 795.8 420.3 795.9 415.7 796 414.2 796.5 409.5 796.7 407.1 796.8 410.3 797.3 411.3 797.8 410.9 798.1 414.3 798.1 415.4 798.5 416.5 798.9 408.8 799 400.4 799.6 391.7 799.8 392.4 800 385.6 800.4 389.2 800.5 396.9 800.4 401.8 800.8 408.4 801.5 410.7 802.2 414.9 802.4 420 803 419.4 803.1 419 803.2 419.5 803.8 419.2 803.8 416.5 804 415.5 804.2 415.8 804.5 415.6 804.9 414.8 805 414.9 805.2 414 805.2 413.1 805.8 413.3 806 412.2 806.2 411.1 806.9 409.2 807.1 410.7 807.4 408.3 807.4 407.4 807.9 403.5 808.5 400.4 808.8 399.5 809 398.8 809.2 397.6 809.6 397.2 809.7 395.7 809.9 393.3 810.7 391.8 811 391.4 811.5 391.1 811.7 388.8 812 385.3 812 383.4 812.5 381.6 813.1 381.1 813.2 381.3 813.7 381.4 814 380.8 814.2 381.4 814.3 380.9 814.5 380.8 814.7 381.1 815.1 380.2 815.1 382.8 815.3 386.9 816 392.2 816 394.9 816.2 397.1 816.9 398.3 817 407.8 817.6 414 817.9 416.7 818.3 423 818.7 426.5 819 433.7 819.3 429.2 819.5 427.3 819.7 426.7 819.9 427.8 820.4 425.3 820.7 423 820.9 418.6 821.3 416 821.7 423.9 821.8 428 822.1 437.4 822.7 440.9 822.9 450.4 823.2 465.2 823.6 474.7 824.4 485 824.5 498.7 825.3 504.3 825.4 509 825.5 514.4 825.4 522.3 825.3 526.1 825.8 534.1 825.9 539.3 826.3 545.4 826.6 550.6 826.9 554 827.4 554.9 827.6 560.6 827.8 560.9 828.5 563.2 829 565.8 829.7 565.8 829.3 565.9 829.5 581.7 829.6 566.3 829.6 562 830 558.4 830.5 549.6 831 539.8 831 535.4 831.3 534.7 831.5 527.2 831.5 521.1 832.2 513.7 832.6 509.7 832.8 506 833 503 833.5 502.8 833.6 500.3 834.1 498.3 834.3 497.9 834.7 496.1 834.8 495.6 835 490.3 835.5 486.2 835.8 478.7 836 477.2 836 474.9 836.4 472.6 836.6 473.1 837 471.7 837.5 470.3 837.9 471.1 838.3 469.5 838.5 467 838.9 467.3 839.3 467 839.3 467.6 839.7 467 840.1 467.1 840.1 467.3 840.7 467.3 841 467.4 841.4 466.3 841.3 465.6 841.6 464.7 841.8 464.1 842.1 463.8 842.4 463.8 843 463.7 843.4 463.4 843 462 843.6 461.7 843.8 461.4 844.4 460.4 844.8 460.2 845.2 461.2 845.4 462.6 845.9 462.2 846.1 460.2 846.2 464.9 846.4 471.1 846.6 479.5 847.2 482.3 847.4 479.3 847.5 476 847.6 470.7 848.5 471.4 848.5 474.7 848.9 477.6 849.1 478.9 849.8 483.2 850.3 478.3 851.1 476 851.3 473.9 851.2 472.8 851.6 477.9 852.2 482.2 852.3 484.5 852.4 486.3 852.9 483.6 853.4 479.1 853.6 478.1 853.4 475.7 853.6 482.3 853.9 488.1 854.2 490.5 854.8 492.5 855.1 491.3 855.4 491 855.7 488.3 856.2 486.4 856.4 483.6 856.5 481.9 856.8 479.6 856.9 479 856.8 475.4 857.7 471.8 858 466.7 858.3 464 858.3 460.2 858.7 455.7 859.2 454.4 859.4 452.4 860.1 453.2 860 457.5 860.7 453.7 860.6 449 860.7 446.1 861 444.1 861.3 443.3 861.6 443.6 861.4 440.9 862 440.4 862.1 441.4 862.1 443.5 862.6 443.8 863.3 445.8 863.1 440.3 863.6 437.4 863.6 435.9 864.6 434 864.9 433.8 865.6 432.6 865.7 432.4 865.6 431.8 865.9 433.1 866 434.7 866.6 436.6 867 434.2 867.1 431.6 867.4 431.2 867.7 428.9 868 426.4 868.7 421.6 868.5 419.4 869 417.4 869.1 412 869.7 409.2 869.8 406 869.8 400.4 870.3 397.1 870.8 393.7 870.9 390 871.3 388.6 871.8 385.4 872.3 381 872.3 380.9 873.5 388.2 873.8 394.5 873.9 400.4 873.6 408.1 873.7 413.8 874.5 409.3 874.7 409.8 875.2 408.7 874.9 407.6 875.2 404.9 875.3 403.8 876 402.3 876.5 397.8 876.8 398.5 877 397.3 877 396.3 877.7 393.8 877.9 391.5 877.9 389.9 878.2 389.3 878.5 386.3 879.1 383.7 879.8 383.4 879.6 382 880.1 382.2 880.4 384.1 880.5 386.9 881 389.2 881.2 389.2 881.8 389.8 882.2 391 882.3 393.7 882.5 394.6 882.4 396 882.9 391.3 883.5 389.1 883.8 383.9 884.3 380.3 884.5 379.4 884.6 378.6 884.6 374.1 885 371.8 885.5 371 885.6 368.9 885.8 366.9 886.1 364.9 886.4 362.6 886.7 360.9 887 358.2 887.5 358 887.5 356.1 887.6 353.4 888.2 353.1 888.4 355.2 888.6 360 889.2 366.7 889.4 378 889.7 383.3 889.9 378.3 890.1 377.7 890.3 371.5 890.6 366.6 890.8 362.2 891.5 357.2 891.8 359.9 891.9 363.6 892.1 369.1 892.4 374.6 892.8 380 893.2 384.1 893.5 387.1 893.9 392.1 894.4 395.4 894.7 394.8 895 392.7 895.1 389.3 895.2 387.9 895.4 383.9 896.1 382.9 896.3 377.2 896.6 374.4 896.6 371 896.8 368.2 897.7 366.1 898.3 362.1 898.4 359.4 898.4 355.5 898.9 352.6 899.1 350.7 899.4 346 899.8 345.7 899.6 343.3 900.1 340.7 900.8 337.9 900.9 335.8 901.2 333.8 901.4 333.6 901.7 329.7 902.3 329.4 903 329.8 903.3 332.7 903.3 333.6 903.8 334.7 904.3 337.1 904.5 340.9 905.1 341.9 905.2 341.9 905.1 344.1 905.4 343.2 905.4 343.5 905.4 341.7 905.9 339.8 906.3 340 906.8 340 907.1 338.5 907.8 338 907.9 336.9 908.6 360.3 908.5 382 909.1 381.2 909.2 379.2 909.5 381.2 909.8 380.5 909.7 379.9 910 378.8 910.1 378.6 910.3 378.1 910.8 377.4 911.1 370.5 911.5 368.3 911.7 362.3 912 354.3 912.6 352.7 912.8 346.7 913.2 342.1 913.6 337 913.8 330.8 914.3 325.8 914.5 321.2 914.9 318.9 915.2 318.1 915.5 316.7 915.3 315 915.6 314.6 916 313.6 916.6 311.5 916.9 310.3 917.4 311.8 917.3 309.6 918 302.7 918 300.1 918.5 296.6 918.5 292.3 918.7 283.9 919.2 276 919.7 274.3 919.8 274.7 920.5 272.3 920.5 272.7 920.6 244.6 920.6 219.9 921 190.4 921.2 173.1 921.7 175.1 921.9 188.4 922.2 189.7 922.8 189.9 923.2 190.7 923.3 191.8 923.5 220 923.7 231.2 924.3 250.1 924.8 268 925 278.3 925.5 286 925.6 289.8 926.2 287.1 926.3 285 926.7 281.7 926.9 276.2 927.2 276.4 927.2 275 927.8 274 928.2 274.2 928.5 275 928.7 275 929.1 273.2 929.4 273.6 929.7 236.1 929.9 234.7 930.5 231 930.8 227 931.2 220.7 931.4 219.2 931.9 213.1 932 209.1 932.6 202.9 932.5 198.9 933.2 199.3 933.4 198.8 933.3 197.3 933.7 186.8 934.1 188.2 934.4 208.4 934.9 208.9 935.1 208.9 935.3 208.8 935.5 209.6 935.8 208.7 936 213.9 936.1 218.1 936.7 223.6 936.8 228.5 937.4 235.6 937.8 224.4 938.2 239.4 938.5 258.7 938.9 249.9 939.3 244.4 939.4 234.1 940 240.6 940.1 251.9 940.2 262.5 940.6 253.8 941.3 267.9 941.4 277.3 941.5 289.5 941.6 287.4 942.1 285 942.3 277.7 942.6 283.5 943 286.1 943.3 294.3 943.9 292.1 943.9 286.3 944.2 283.6 944.4 279.7 944.8 287.4 944.8 295.6 944.9 304.2 945.2 311.8 946 324.7 946.3 329.1 946.6 332.2 946.7 334.1 946.7 335.7 947 339.9 947.6 340.4 947.5 332.6 948.1 322.1 948.1 314.3 948.2 306.6 948.8 297.1 949.4 285.9 949.6 290.7 950.3 297.7 951 303 951.6 306.1 951.9 311.2 951.7 317.1 952.4 311.1 952.6 310.6 952.8 305.4 953 301.6 953.3 296.5 953.7 293.7 953.8 286.6 954 282.2 954.5 288.9 954.7 296.8 955.3 302.4 955.3 304.5 955.5 315.1 955.6 317.2 956.1 327.1 956.4 334.2 957.2 341.8 957.2 344.8 957.3 350.4 957.5 360.4 957.7 353.7 957.9 350 958.4 345.3 958.3 337.9 958.4 330.6 959.2 327.4 959.2 330.7 959.5 335.5 960.1 341.8 960.3 346.1 960.3 348.7 960.8 354.1 961.2 357 961.7 364.3 961.9 355.3 962.2 348.2 962.5 343.3 963 338.5 963.3 333.3 963.8 322.3 964.4 323.3 964.4 329.3 964.8 334.3 965.1 337.3 965.2 341.1 965.8 345.3 966 351.6 966.4 347.5 966.7 344.2 967.2 337.8 966.9 333.6 967 331.8 967.7 328.3 967.9 327.8 968.2 327.9 968.5 327.4 968.8 327.1 969.4 328.6 969.5 328.6 969.9 339 969.8 350.5 970.1 356.2 970.3 365.2 971.2 370.6 971.4 377.9 971.8 371.6 972.2 362.4 972.2 355.6 972.8 347.1 972.9 343 973.2 335.3 973.4 333.7 973.8 328.4 973.6 325.2 973.9 321.6 974.6 319.5 974.1 322.5 974.6 329.2 975 334 975.4 338.4 975.6 341.1 976.5 346.7 977 353 977.3 356.6 977.9 362.5 978 371.6 978.3 370.7 978.6 366.8 979.2 363.6 979.7 362.7 979.4 361 979.7 359.7 980.1 354.5 980.5 354.4 981.1 355.4 981.3 358.6 981.6 360.7 982 363.8 981.9 365.5 982.4 369.4 982.7 370.4 982.6 373.6 983.1 375.2 983.4 374.8 983.7 375.4 983.9 373.7 983.9 372.2 983.9 369.7 984.3 369.8 984.3 369.7 985.3 367.5 985.1 362.4 985.4 357.6 986.1 354.3 986.7 352.7 986.9 349 987.1 343.4 987.5 341.9 987.6 338.1 988.1 335.2 988.1 331.5 988.4 328.2 988.9 325.5 989.1 322.2 989.6 318.4 990.1 319.9 990.4 319.1 990.3 317.2 990.7 316.1 991.1 316.7 991.7 316.4 991.6 315.7 991.9 315.2 992.3 322.4 992.7 327.9 992.8 334.1 993.3 327.1 993.3 323.1 993.7 314.5 993.7 312.8 994.2 302.8 994.5 297.3 994.8 296.8 995.1 294.6 995.7 295 995.9 295.4 996.5 293.3 996.6 293.6 997.1 293.7 996.9 292.6 997.3 291.5 997.4 295.8 997.9 300.3 997.9 311 998.2 318.2 998.8 322.1 998.8 321.6 999 318.4 999.4 314.8 999.5 312.5 1000.2 307 1000.8 304.5 1001.2 308.1 1001.8 314.7 1002 319.7 1002.1 325.2 1002.6 329.2 1002.7 331.3 1002.9 339.8 1003.3 344.1 1003.7 351 1003.9 354.2 1004.2 352.6 1004.7 348.6 1005.4 347.4 1005.4 342.8 1005.7 339.4 1005.9 337.3 1006.6 338.9 1006.8 347.5 1007 358.1 1007.2 366.3 1007.7 363.4 1007.7 361.4 1007.9 357.3 1008.2 355.7 1008.2 352.2 1008.9 347.9 1009 346.7 1009.4 345.4 1009.6 347.6 1010 351.4 1010.4 355.3 1010.6 356 1011 357.3 1011.3 360 1011.5 356.5 1011.6 351.5 1011.7 347.9 1011.9 342.3 1012.3 337.2 1012.9 334.7 1013 335.9 1013.5 339.5 1014.3 342 1014.6 345.6 1014.6 348.8 1014.9 349.3 1015.4 346.6 1016 342.3 1016.6 337.8 1016.6 332.9 1016.8 332.1 1017 329.4 1017.3 329 1017.5 327.8 1017.6 327.7 1018.3 327.8 1018.5 326 1018.7 326.4 1018.9 328.5 1019.3 331 1019.9 333.3 1020 335.9 1020.4 332.2 1020.5 330.5 1020.8 327.6 1021 326.4 1021.6 324.6 1021.9 323.9 1022 320 1022.6 317.5 1023.1 315.3 1023.4 311 1023.5 305.8 1024.5 307.8 1024.5 310.6 1024.4 312.2 1024.6 313.1 1024.8 316.5 1025.1 323.1 1025.5 326.1 1026 327.2 1026.2 334.7 1026.7 337.1 1026.8 339.7 1027.2 341.4 1027.6 342.8 1028 345.3 1028.1 346.7 1028.7 348 1028.6 350.7 1029.3 351.4 1029.2 354.3 1029.5 355.5 1030.2 359.6 1030.3 360.9 1030.4 363.5 1030.8 362.2 1031.3 356.9 1031.4 352.6 1031.7 345.4 1032.3 342.5 1032.8 334.5 1032.9 333.6 1033.5 332.2 1033.8 330.6 1034 327.8 1034.1 326.1 1034.1 322.6 1034.5 321.8 1034.7 320.2 1034.9 322.3 1035.6 321.4 1036.3 322 1036.4 324.8 1036.5 324.3 1036.8 328.4 1037 333.7 1037.2 337.9 1037.5 343.8 1037.5 349.1 1038.2 352.6 1038.6 357.1 1039.1 356.7 1039.6 352 1039.8 347.7 1040.3 345.8 1040.5 345.5 1040.9 345.1 1040.9 341.1 1041 339 1041.3 344.8 1041.3 347.3 1041.6 351.1 1041.9 356.7 1042 358 1042.7 363.4 1042.8 368.1 1043.2 372.6 1043.6 378.5 1044.1 380.1 1044.2 378 1044.5 371.6 1045.1 363.3 1045.4 361.6 1045.9 362.4 1046.1 354.8 1046.4 355.4 1046.7 353.1 1047 347.9 1047.4 346.1 1047.5 342.8 1047.7 347.7 1048.2 350.4 1048.5 351.7 1048.6 353.1 1048.9 356.4 1049.3 363.3 1049.6 366.7 1049.9 368.9 1050.2 371.2 1050.4 375.2 1050.6 377.4 1050.5 374.6 1051.2 370.4 1051.8 367.8 1051.9 362.7 1052.4 360.8 1052.5 358.4 1052.7 359.8 1053.2 360.4 1053.1 360.7 1053.2 360.5 1053.7 360.5 1053.9 363 1054.6 363.5 1054.6 363.1 1055 364.7 1055.5 365.8 1055.9 366.7 1056.4 368.4 1056.8 369.6 1057 372.7 1057.4 371.8 1057.8 367.2 1058 363.3 1058.3 361 1058.2 360.6 1058.8 356.7 1059.1 353.4 1059.1 352.4 1059.6 348.8 1059.6 344.7 1060 340.5 1060.7 338.4 1060.7 336.6 1061.2 341.8 1061.4 346.6 1061.8 347.9 1062.2 353 1062.6 357.6 1062.7 358.7 1062.7 364 1063.2 364.6 1063.2 363.8 1064.1 363.2 1064.2 362.6 1064.7 362.2 1064.9 361 1065.3 359.3 1065.8 360.1 1066.5 358.8 1066.5 359.5 1066.3 359 1067 360.4 1067.1 363.4 1067.4 367.8 1067.6 370.2 1068.2 373 1068.2 377.5 1068.8 374.8 1069.4 371.7 1069.7 369.6 1070 364.1 1070.3 362.7 1070.6 361 1070.9 357.6 1070.6 355.4 1071.1 360.2 1070.9 368.9 1071.4 371.8 1072.3 380.8 1072.4 385.7 1072.4 396.4 1073.2 395.2 1073.6 393.1 1073.8 391.1 1074.1 390.7 1074.5 388.8 1074.7 387.9 1074.6 386.5 1074.7 385.9 1075.5 393.8 1075.6 398.6 1076 406 1076 413.3 1076.2 411.4 1076.1 408.4 1076.3 406.1 1076.7 404.8 1077.3 402.4 1077.3 400.9 1077.8 397.8 1078 397.1 1078.4 393.4 1078.7 391.2 1078.9 388.3 1079 384.4 1079.3 382.4 1079.7 380 1080 376.8 1079.7 370.8 1080.3 365.8 1081 365.5 1081.4 361.4 1081.7 354 1082 346.2 1082.6 352.2 1082.6 357.5 1082.9 364 1083.1 372.6 1083.6 380.4 1083.8 386.2 1084 382.5 1084.2 382.9 1084.7 383.5 1085 382.3 1085.5 380.8 1085.7 378.6 1086.4 375.9 1086.5 374 1086.4 371.7 1086.8 369.9 1087 368.2 1087.5 367.5 1087.8 370.8 1088.3 373.7 1088.4 377 1088.6 382.3 1089.3 385.2 1089.2 392.1 1089.2 393.1 1089.3 393.9 1089.8 394.9 1090.4 396.8 1090.9 396.4 1091.1 396.5 1091.1 396.8 1091.4 398 1091.5 396.1 1091.6 394.5 1092.1 392.1 1092.8 391.8 1093.2 387.9 1093.7 386.2 1093.9 383.3 1094 383.4 1094.1 381.6 1094.2 381.4 1094.5 378.5 1095.2 377.1 1095.4 381.6 1095.8 386.7 1096.1 391 1096.2 395.5 1096.4 397.4 1096.9 400.4 1097.5 408.5 1097.7 411.8 1097.8 408.9 1097.8 407.1 1098.1 404.7 1098.5 402.9 1098.7 400 1099 395.1 1099.6 394.2 1099.7 397.2 1100.1 397.4 1101 398.6 1100.9 400.8 1101.5 401.9 1101.7 402 1102.3 403.1 1102.1 406.8 1102.4 402.9 1102.5 399.8 1102.8 402.3 1102.9 400.6 1103.1 399.5 1103.7 397.6 1103.9 400.5 1104.2 404.9 1104.6 407.4 1105 410.8 1105.5 412 1105.7 413.7 1105.8 413.4 1106 409.2 1106.6 406.4 1107.3 402.5 1107.4 403 1107.4 400.5 1107.9 403.5 1108.3 406 1108.5 409.7 1108.6 409.7 1109 404.4 1109.3 397.5 1109.6 389.5 1109.7 383.9 1109.8 381.1 1109.8 380.2 1109.9 378.8 1110.4 376.8 1110.8 377 1111.1 374.8 1111.5 374 1111.2 380.7 1111.7 383.2 1112.4 387.2 1112.9 392.1 1113.1 388.7 1113.7 381.4 1114.2 378.8 1114.3 371 1115.1 371.9 1115.8 374.9 1115.6 374.4 1115.9 377.5 1115.6 378.5 1115.8 367.3 1116.6 349.1 1116.7 333.6 1116.9 328.2 1117.2 308.6 1117.3 289 1117.4 269.7" fill="none" stroke="#00b050" stroke-width="5.1" stroke-linejoin="round" stroke-linecap="round"/>
</svg></body></html>
